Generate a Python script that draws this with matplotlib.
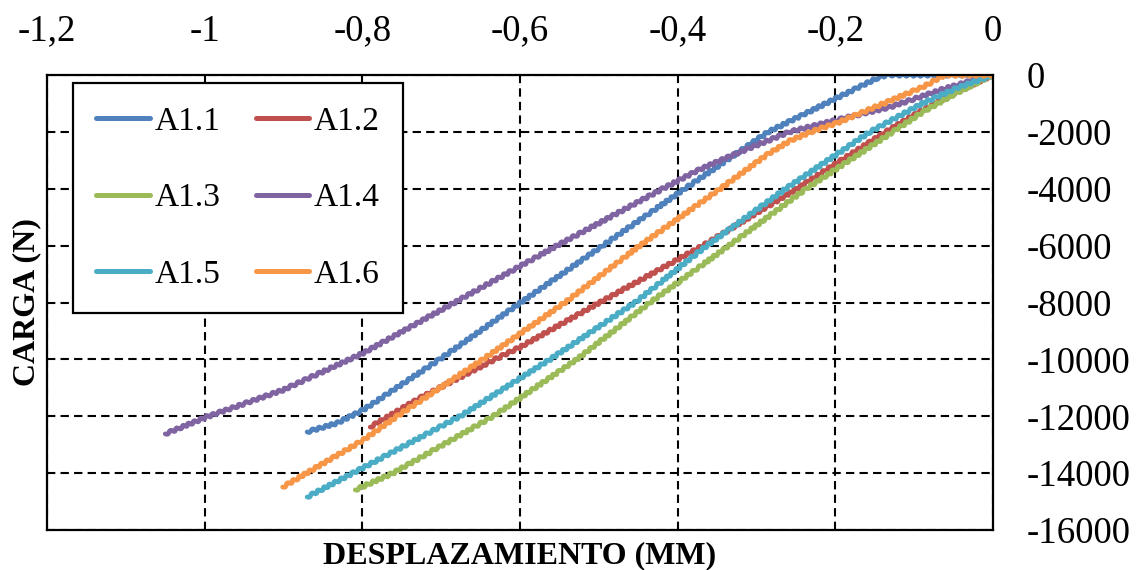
import matplotlib.pyplot as plt
from matplotlib.ticker import FixedLocator, FuncFormatter

plt.rcParams['font.family'] = ['Liberation Serif', 'DejaVu Serif']

# displacement (mm) / load (N)
x_a11 = [-0.870, -0.832, -0.799, -0.702, -0.599, -0.495, -0.391, -0.285, -0.198, -0.147, -0.135, 0.0]
y_a11 = [-12550, -12240, -11780, -10000, -8000, -6000, -4000, -2000, -810, -110, 0, 0]

x_a12 = [-0.790, -0.727, -0.632, -0.600, -0.499, -0.368, -0.249, -0.136, -0.089, -0.046, 0.0]
y_a12 = [-12380, -11360, -10000, -9570, -8000, -6000, -4000, -2000, -1230, -600, 0]

x_a13 = [-0.809, -0.761, -0.634, -0.528, -0.435, -0.397, -0.335, -0.237, -0.127, -0.089, -0.046, 0.0]
y_a13 = [-14590, -14000, -12000, -10000, -8000, -7240, -6000, -4000, -2000, -1300, -630, 0]

x_a14 = [-1.050, -0.997, -0.901, -0.799, -0.683, -0.553, -0.419, -0.372, -0.321, -0.258, -0.198, -0.131, -0.067, -0.025, 0.0]
y_a14 = [-12620, -12020, -11080, -9780, -8000, -6000, -4000, -3320, -2710, -2000, -1580, -1130, -530, -180, 0]

x_a15 = [-0.870, -0.812, -0.676, -0.562, -0.454, -0.363, -0.263, -0.156, -0.089, -0.046, 0.0]
y_a15 = [-14840, -14000, -12000, -10000, -8000, -6000, -4000, -2000, -990, -460, 0]

x_a16 = [-0.901, -0.799, -0.756, -0.647, -0.543, -0.448, -0.346, -0.287, -0.258, -0.228, -0.198, -0.131, -0.089, -0.061, 0.0]
y_a16 = [-14490, -12840, -12000, -10000, -8000, -6000, -4000, -2810, -2320, -1970, -1690, -910, -420, 0, 0]

series = [
    ("A1.1", x_a11, y_a11, "#4F81BD"),
    ("A1.2", x_a12, y_a12, "#C0504D"),
    ("A1.3", x_a13, y_a13, "#9BBB59"),
    ("A1.4", x_a14, y_a14, "#8064A2"),
    ("A1.5", x_a15, y_a15, "#4BACC6"),
    ("A1.6", x_a16, y_a16, "#F79646"),
]

x_ticks = [-1.2, -1.0, -0.8, -0.6, -0.4, -0.2, 0.0]
y_ticks = [0, -2000, -4000, -6000, -8000, -10000, -12000, -14000, -16000]

fig = plt.figure(figsize=(11.41, 5.70), dpi=100)
ax = fig.add_axes([47 / 1141, 40 / 570, 946 / 1141, 455 / 570])

handles = []
for name, xs, ys, col in series:
    ln, = ax.plot(xs, ys, color=col, lw=3.4, label=name, solid_capstyle='round')
    # the logger's load steps give the curves a fine serrated edge
    ln.set_sketch_params(scale=1.3, length=7, randomness=1.5)
    handles.append(ln)

ax.set_xlim(-1.2, 0)
ax.set_ylim(-16000, 0)
ax.xaxis.set_major_locator(FixedLocator(x_ticks))
ax.yaxis.set_major_locator(FixedLocator(y_ticks))
ax.xaxis.set_major_formatter(FuncFormatter(lambda v, p: ("%g" % round(v, 1)).replace('.', ',')))
ax.yaxis.set_major_formatter(FuncFormatter(lambda v, p: "%d" % v))

ax.xaxis.tick_top()
ax.yaxis.tick_right()
ax.tick_params(axis='x', length=0, pad=19, labelsize=26.5)
ax.tick_params(axis='y', length=0, pad=24, labelsize=26.5)
for lbl in ax.get_yticklabels():
    lbl.set_horizontalalignment('left')

ax.grid(True, color='black', lw=1.5, linestyle=(0, (4, 2.5)))
ax.set_axisbelow(True)
for sp in ax.spines.values():
    sp.set_linewidth(1.6)
    sp.set_color('black')

ax.set_xlabel("DESPLAZAMIENTO (MM)", fontsize=23, fontweight='bold', labelpad=8)
ax.xaxis.set_label_position('bottom')
ax.set_ylabel("CARGA (N)", fontsize=23, fontweight='bold', labelpad=4)
ax.yaxis.set_label_position('left')

# legend reads row by row: A1.1 A1.2 / A1.3 A1.4 / A1.5 A1.6
order = [0, 2, 4, 1, 3, 5]
leg = ax.legend([handles[i] for i in order], [series[i][0] for i in order],
                loc='upper left', bbox_to_anchor=(26 / 946, 447 / 455), borderaxespad=0,
                ncol=2, fontsize=24, frameon=True, fancybox=False, handlelength=1.6,
                handletextpad=0.15, columnspacing=1.05, labelspacing=1.38, borderpad=0.7)
leg.get_frame().set_edgecolor('black')
leg.get_frame().set_linewidth(1.6)
leg.get_frame().set_alpha(1)
for h in leg.get_lines():
    h.set_linewidth(3.6)
    h.set_sketch_params(None)

fig.savefig("out.png", dpi=100)
